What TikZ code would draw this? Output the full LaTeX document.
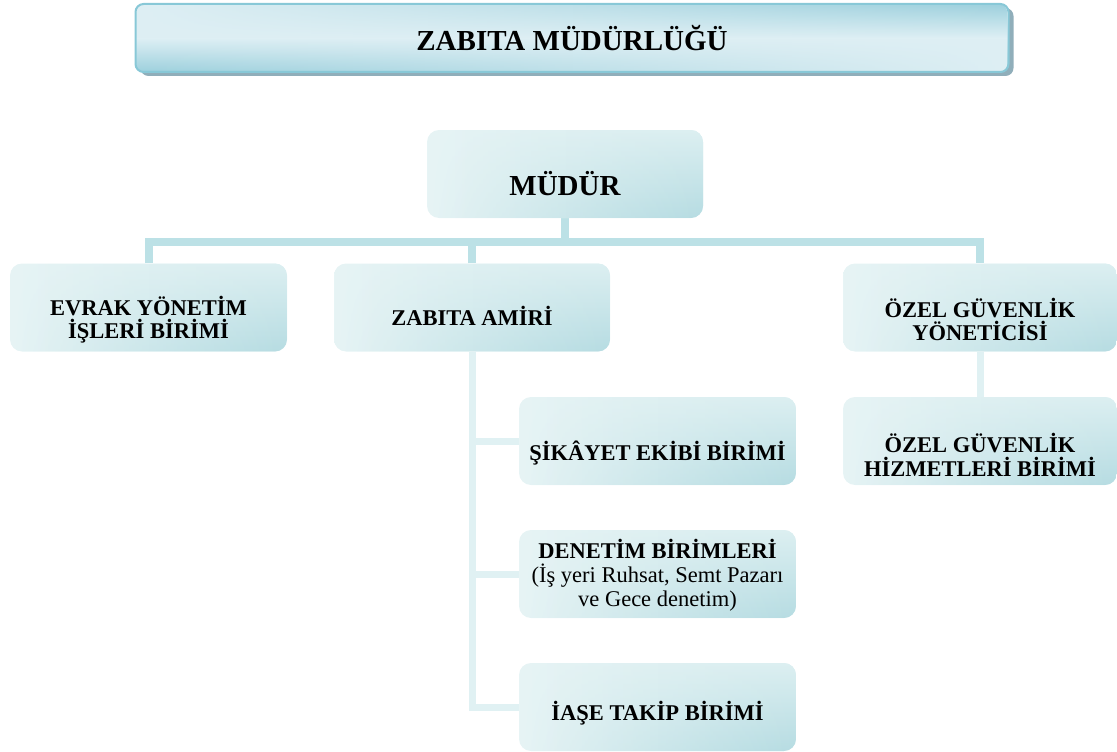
\documentclass[tikz,border=0pt]{standalone}
\usepackage{fontspec}
\setmainfont{Liberation Serif}
\usetikzlibrary{shadows,backgrounds,fadings}
\definecolor{busc}{HTML}{BCE1E6}
\definecolor{subc}{HTML}{E0F1F3}
\definecolor{boxA}{HTML}{E7F4F5}
\definecolor{boxM}{HTML}{DCEFF1}
\definecolor{boxB}{HTML}{B6DCE2}
\definecolor{titA}{HTML}{9CD0DD}
\definecolor{titM}{HTML}{DEEFF4}
\definecolor{titedge}{HTML}{88C8D7}
\definecolor{shadowc}{HTML}{90AEBA}
\tikzfading[name=fadeLR, left color=transparent!100, right color=transparent!0]
\begin{document}
\begin{tikzpicture}[x=1pt,y=-1pt,
  box/.style={rounded corners=12pt, minimum width=277pt, minimum height=88pt,
    inner sep=0pt,
    path picture={
      \shade[left color=boxA, right color=boxM]
        (path picture bounding box.north west) rectangle (path picture bounding box.south east);
      \shade[top color=boxM, bottom color=boxB, path fading=fadeLR]
        (path picture bounding box.north west) rectangle (path picture bounding box.south east);
    }},
  lbl/.style={align=center, inner sep=0pt, font=\fontsize{22.5}{23.5}\selectfont\bfseries},
  titlebox/.style={rounded corners=8pt, draw=titedge, line width=2pt,
    minimum width=873pt, minimum height=68pt, inner sep=0pt,
    drop shadow={shadow xshift=5pt, shadow yshift=-4pt, fill=shadowc, opacity=1},
    path picture={
      \shade[top color=titM, bottom color=titA, middle color=titM]
        (path picture bounding box.north west) rectangle (path picture bounding box.south east);
      \shade[top color=titA, bottom color=titM, middle color=titM, path fading=fadeLR]
        (path picture bounding box.north west) rectangle (path picture bounding box.south east);
    },
    font=\fontsize{29}{32}\selectfont\bfseries},
  bus/.style={draw=busc, line width=8pt},
  sub/.style={draw=subc, line width=7pt}]
\useasboundingbox (0,0) rectangle (1117,752);

\node[titlebox] (title) at (572,38) {ZABITA MÜDÜRLÜĞÜ};

\node[box, minimum width=276pt] (mudur) at (565,174) {};
\node[lbl, font=\fontsize{29}{32}\selectfont\bfseries] (mudurT) at ([yshift=-10pt]mudur.center) {MÜDÜR};

\node[box] (evrak) at (148.5,307.5) {};
\node[lbl] (evrakT) at ([yshift=-12pt]evrak.center) {EVRAK YÖNETİM\\İŞLERİ BİRİMİ};

\node[box, minimum width=276pt] (amiri) at (472,307.5) {};
\node[lbl] (amiriT) at ([yshift=-8pt]amiri.center) {ZABITA AMİRİ};

\node[box, minimum width=274pt] (ozel) at (980,307.5) {};
\node[lbl] (ozelT) at ([yshift=-12pt]ozel.center) {ÖZEL GÜVENLİK\\YÖNETİCİSİ};

\node[box, minimum width=274pt] (hizmet) at (980,441) {};
\node[lbl] (hizmetT) at ([yshift=-14pt]hizmet.center) {ÖZEL GÜVENLİK\\HİZMETLERİ BİRİMİ};

\node[box] (sikayet) at (657.5,441) {};
\node[lbl] (sikayetT) at ([yshift=-12pt]sikayet.center) {ŞİKÂYET EKİBİ BİRİMİ};

\node[box] (denetim) at (657.5,574) {};
\node[lbl] (denetimT) at ([yshift=-1pt]denetim.center) {DENETİM BİRİMLERİ\\[1pt]
  {\mdseries (İş yeri Ruhsat, Semt Pazarı}\\{\mdseries ve Gece denetim)}};

\node[box] (iase) at (657.5,707) {};
\node[lbl] (iaseT) at ([yshift=-6pt]iase.center) {İAŞE TAKİP BİRİMİ};

\begin{scope}[on background layer]
  \draw[bus] (mudur.south) -- ++(0,24);
  \draw[bus] (evrak.north) -- ++(0,-21) -| (ozel.north);
  \draw[bus] (amiri.north) -- ++(0,-21);
  \draw[sub] (amiri.south) |- (iase.west);
  \draw[sub] (amiri.south |- sikayet.west) -- (sikayet.west);
  \draw[sub] (amiri.south |- denetim.west) -- (denetim.west);
  \draw[sub] (ozel.south) -- (hizmet.north);
\end{scope}
\end{tikzpicture}
\end{document}
